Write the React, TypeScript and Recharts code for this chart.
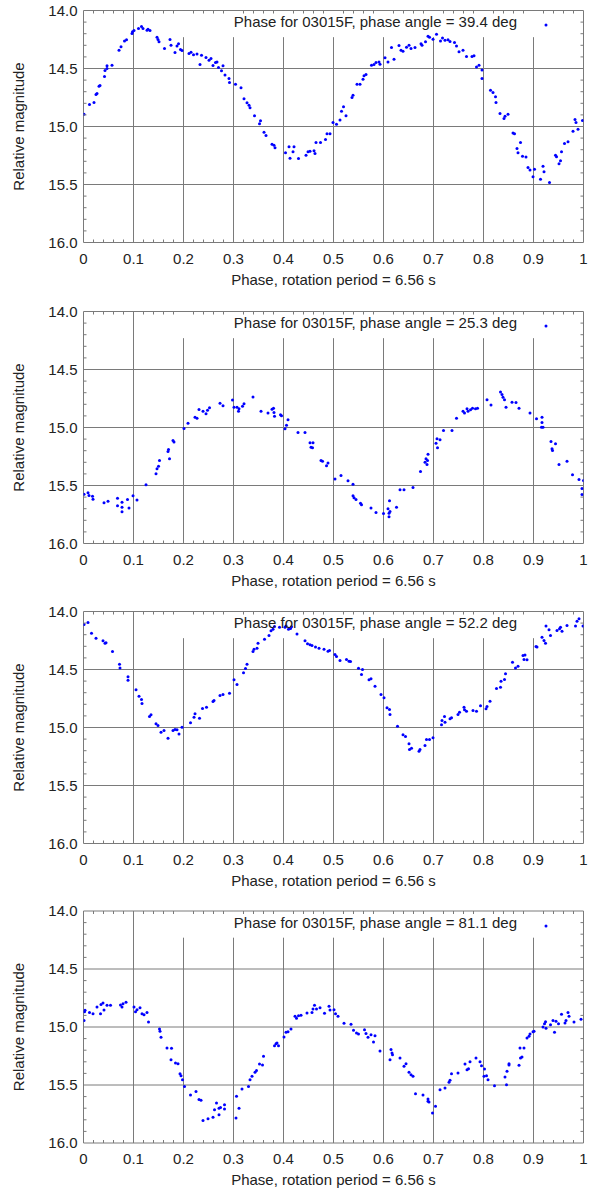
import React from 'react';
import {
  ScatterChart,
  Scatter,
  XAxis,
  YAxis,
  ReferenceLine,
  ReferenceArea,
  Legend,
} from 'recharts';

// ---------- axis ticks & labels ----------
const xMajorTicks = [0, 0.1, 0.2, 0.3, 0.4, 0.5, 0.6, 0.7, 0.8, 0.9, 1];
const xMajorLabels = ['0', '0.1', '0.2', '0.3', '0.4', '0.5', '0.6', '0.7', '0.8', '0.9', '1'];
const xMinorTicks = [
  0.02, 0.04, 0.06, 0.08, 0.12, 0.14, 0.16, 0.18, 0.22, 0.24, 0.26, 0.28,
  0.32, 0.34, 0.36, 0.38, 0.42, 0.44, 0.46, 0.48, 0.52, 0.54, 0.56, 0.58,
  0.62, 0.64, 0.66, 0.68, 0.72, 0.74, 0.76, 0.78, 0.82, 0.84, 0.86, 0.88,
  0.92, 0.94, 0.96, 0.98,
];
const yMajorTicks = [14, 14.5, 15, 15.5, 16];
const yMajorLabels = ['14.0', '14.5', '15.0', '15.5', '16.0'];
const yMinorTicks = [
  14.1, 14.2, 14.3, 14.4, 14.6, 14.7, 14.8, 14.9, 15.1, 15.2, 15.3, 15.4,
  15.6, 15.7, 15.8, 15.9,
];
const vGridFull = [0.1];
const vGridUnderKey = [0.2, 0.3, 0.4, 0.5, 0.6, 0.7, 0.8, 0.9];
const hGrid = [14.5, 15, 15.5];

const xTitle = 'Phase, rotation period = 6.56 s';
const yTitle = 'Relative magnitude';
const keyTitles = [
  'Phase for 03015F, phase angle = 39.4 deg',
  'Phase for 03015F, phase angle = 25.3 deg',
  'Phase for 03015F, phase angle = 52.2 deg',
  'Phase for 03015F, phase angle = 81.1 deg',
];

// ---------- data: [phase, relative magnitude] ----------
const angle39: [number, number][] = [
  [0.001, 14.894], [0.012, 14.81], [0.021, 14.793], [0.025, 14.724], [0.027, 14.716], [0.031, 14.652],
  [0.033, 14.647], [0.042, 14.569], [0.043, 14.517], [0.047, 14.5], [0.047, 14.477], [0.057, 14.471],
  [0.071, 14.342], [0.075, 14.313], [0.082, 14.264], [0.086, 14.253], [0.097, 14.198], [0.098, 14.184],
  [0.101, 14.172], [0.11, 14.155], [0.116, 14.138], [0.119, 14.155], [0.127, 14.17], [0.129, 14.161],
  [0.133, 14.172], [0.147, 14.23], [0.149, 14.25], [0.151, 14.27], [0.162, 14.328], [0.173, 14.25],
  [0.175, 14.299], [0.183, 14.362], [0.187, 14.305], [0.19, 14.287], [0.194, 14.336], [0.197, 14.345],
  [0.211, 14.371], [0.215, 14.359], [0.22, 14.382], [0.227, 14.374], [0.233, 14.466], [0.236, 14.385],
  [0.245, 14.405], [0.251, 14.428], [0.255, 14.414], [0.259, 14.474], [0.264, 14.448], [0.267, 14.443],
  [0.27, 14.491], [0.276, 14.52], [0.279, 14.477], [0.283, 14.555], [0.291, 14.586], [0.292, 14.621],
  [0.304, 14.635], [0.315, 14.667], [0.321, 14.761], [0.327, 14.796], [0.331, 14.816], [0.333, 14.839],
  [0.342, 14.908], [0.354, 14.951], [0.352, 14.977], [0.361, 15.049], [0.365, 15.078], [0.377, 15.152],
  [0.383, 15.184], [0.381, 15.161],
  [0.404, 15.227], [0.411, 15.175], [0.421, 15.175], [0.413, 15.273], [0.419, 15.218], [0.43, 15.276],
  [0.445, 15.247], [0.449, 15.218], [0.453, 15.213], [0.461, 15.21], [0.463, 15.233], [0.465, 15.138],
  [0.474, 15.138], [0.484, 15.112], [0.487, 15.063], [0.493, 15.063], [0.499, 14.966], [0.506, 14.98],
  [0.513, 14.943], [0.516, 14.868], [0.52, 14.83], [0.525, 14.908], [0.537, 14.75], [0.539, 14.73],
  [0.547, 14.635], [0.553, 14.635], [0.559, 14.592], [0.561, 14.563], [0.565, 14.552], [0.576, 14.471],
  [0.581, 14.466], [0.585, 14.448], [0.591, 14.443], [0.593, 14.463], [0.603, 14.408], [0.609, 14.443],
  [0.616, 14.319], [0.621, 14.42], [0.631, 14.302], [0.635, 14.342], [0.639, 14.351], [0.646, 14.316],
  [0.651, 14.299], [0.655, 14.328], [0.663, 14.319], [0.675, 14.287], [0.677, 14.299], [0.684, 14.27],
  [0.689, 14.221], [0.692, 14.23], [0.699, 14.247], [0.706, 14.204], [0.714, 14.264], [0.718, 14.236],
  [0.723, 14.256], [0.729, 14.253], [0.733, 14.267], [0.742, 14.276], [0.746, 14.305], [0.751, 14.356],
  [0.759, 14.342], [0.766, 14.397], [0.777, 14.397], [0.781, 14.391],
  [0.786, 14.486], [0.791, 14.471], [0.797, 14.514], [0.797, 14.586], [0.814, 14.687], [0.819, 14.707],
  [0.824, 14.744], [0.825, 14.793], [0.833, 14.888], [0.841, 14.931], [0.843, 14.911], [0.849, 14.894],
  [0.859, 15.055], [0.862, 15.063], [0.867, 15.19], [0.869, 15.227], [0.874, 15.138], [0.878, 15.256],
  [0.885, 15.264], [0.889, 15.353], [0.893, 15.376], [0.902, 15.368], [0.899, 15.434], [0.914, 15.454],
  [0.919, 15.342], [0.921, 15.391], [0.932, 15.483], [0.944, 15.247], [0.946, 15.261], [0.951, 15.322],
  [0.954, 15.296], [0.956, 15.218], [0.962, 15.147], [0.969, 15.132], [0.979, 15.04], [0.983, 14.94],
  [0.985, 14.966], [0.989, 15.023], [0.998, 14.948],
];

const angle25: [number, number][] = [
  [0.001, 15.575], [0.009, 15.563], [0.011, 15.586], [0.018, 15.592], [0.019, 15.618],
  [0.041, 15.649], [0.049, 15.635],
  [0.068, 15.609], [0.068, 15.675], [0.077, 15.644], [0.077, 15.727], [0.077, 15.687], [0.088, 15.621],
  [0.091, 15.695], [0.099, 15.589], [0.107, 15.626],
  [0.125, 15.494],
  [0.145, 15.399], [0.147, 15.356], [0.15, 15.333], [0.152, 15.284], [0.172, 15.27], [0.169, 15.207],
  [0.17, 15.19], [0.179, 15.112], [0.181, 15.126],
  [0.201, 15.009], [0.209, 14.963],
  [0.223, 14.911], [0.227, 14.92], [0.231, 14.845], [0.239, 14.859], [0.245, 14.882], [0.248, 14.851],
  [0.252, 14.83], [0.273, 14.79], [0.279, 14.813],
  [0.298, 14.764], [0.301, 14.825], [0.307, 14.825], [0.31, 14.859], [0.311, 14.839], [0.318, 14.816],
  [0.321, 14.796], [0.339, 14.736],
  [0.355, 14.859], [0.369, 14.874], [0.377, 14.842], [0.38, 14.833], [0.381, 14.871], [0.382, 14.902],
  [0.394, 14.891], [0.396, 14.899], [0.403, 15.011], [0.406, 14.98], [0.409, 14.934],
  [0.429, 15.043], [0.443, 15.043],
  [0.453, 15.132], [0.455, 15.17], [0.459, 15.132], [0.458, 15.175],
  [0.475, 15.284], [0.478, 15.29], [0.486, 15.33], [0.489, 15.307],
  [0.503, 15.443], [0.515, 15.414], [0.529, 15.46], [0.539, 15.489],
  [0.539, 15.589], [0.541, 15.606], [0.545, 15.621], [0.554, 15.652], [0.556, 15.667], [0.575, 15.695],
  [0.585, 15.733],
  [0.6, 15.741], [0.609, 15.701], [0.612, 15.632], [0.611, 15.739], [0.613, 15.724], [0.611, 15.77],
  [0.626, 15.687], [0.633, 15.537], [0.641, 15.537], [0.659, 15.517],
  [0.674, 15.379], [0.683, 15.299], [0.685, 15.27], [0.688, 15.284], [0.687, 15.319], [0.689, 15.23],
  [0.705, 15.135], [0.707, 15.098], [0.708, 15.175], [0.713, 15.106], [0.72, 15.026], [0.737, 15.026],
  [0.746, 14.92],
  [0.759, 14.859], [0.762, 14.876], [0.767, 14.839], [0.769, 14.859], [0.774, 14.848], [0.778, 14.833],
  [0.784, 14.839], [0.788, 14.833], [0.807, 14.761], [0.815, 14.807],
  [0.834, 14.695], [0.837, 14.716], [0.839, 14.739], [0.842, 14.761], [0.845, 14.825], [0.857, 14.782],
  [0.865, 14.784], [0.871, 14.833], [0.893, 14.876], [0.906, 14.925], [0.917, 14.911], [0.917, 14.957],
  [0.916, 14.997], [0.919, 14.997],
  [0.935, 15.121], [0.944, 15.141], [0.937, 15.184], [0.938, 15.198], [0.951, 15.319], [0.967, 15.29],
  [0.978, 15.408], [0.991, 15.448], [1.0, 15.457], [0.997, 15.526], [0.997, 15.578],
];

const angle52: [number, number][] = [
  [0.001, 14.112], [0.009, 14.095], [0.016, 14.187], [0.025, 14.23], [0.039, 14.253], [0.043, 14.273],
  [0.045, 14.27], [0.058, 14.345], [0.072, 14.454], [0.073, 14.486], [0.089, 14.563], [0.089, 14.592],
  [0.105, 14.675], [0.111, 14.73], [0.116, 14.759], [0.117, 14.793], [0.132, 14.905], [0.135, 14.891],
  [0.145, 14.968], [0.149, 14.983], [0.155, 15.04], [0.161, 15.026], [0.169, 15.092], [0.179, 15.026],
  [0.183, 15.017], [0.187, 15.02], [0.191, 15.057], [0.197, 14.997], [0.214, 14.96], [0.221, 14.911],
  [0.223, 14.882], [0.232, 14.92], [0.238, 14.836], [0.246, 14.825], [0.259, 14.776], [0.261, 14.767],
  [0.273, 14.724], [0.279, 14.716], [0.292, 14.704], [0.301, 14.589], [0.307, 14.629], [0.32, 14.529],
  [0.324, 14.491], [0.327, 14.454], [0.339, 14.345], [0.341, 14.325], [0.347, 14.316], [0.349, 14.273],
  [0.362, 14.239], [0.371, 14.207], [0.375, 14.167], [0.379, 14.152], [0.382, 14.129], [0.392, 14.135],
  [0.403, 14.135], [0.405, 14.124], [0.41, 14.152], [0.414, 14.147], [0.416, 14.132], [0.427, 14.193],
  [0.443, 14.253], [0.448, 14.279], [0.453, 14.287], [0.457, 14.293], [0.464, 14.307], [0.471, 14.316],
  [0.481, 14.325], [0.489, 14.342], [0.492, 14.336], [0.503, 14.371], [0.506, 14.388], [0.513, 14.422],
  [0.526, 14.414], [0.531, 14.428], [0.534, 14.431], [0.55, 14.489], [0.558, 14.5], [0.556, 14.543],
  [0.571, 14.589], [0.575, 14.58], [0.583, 14.644], [0.595, 14.716], [0.601, 14.744], [0.607, 14.83],
  [0.612, 14.845], [0.613, 14.888], [0.628, 14.989], [0.639, 15.063], [0.644, 15.078], [0.651, 15.141],
  [0.652, 15.19], [0.656, 15.178], [0.671, 15.204], [0.673, 15.19], [0.683, 15.155], [0.686, 15.103],
  [0.692, 15.103], [0.699, 15.089], [0.716, 14.977], [0.717, 14.94], [0.722, 14.905], [0.723, 14.954],
  [0.733, 14.925], [0.736, 14.917], [0.749, 14.888], [0.752, 14.868], [0.761, 14.825], [0.762, 14.848],
  [0.766, 14.859], [0.779, 14.853], [0.786, 14.859], [0.794, 14.813], [0.805, 14.839], [0.807, 14.819],
  [0.813, 14.773], [0.826, 14.664], [0.834, 14.652], [0.835, 14.601], [0.842, 14.586], [0.844, 14.537],
  [0.858, 14.437], [0.864, 14.486], [0.869, 14.471], [0.879, 14.379], [0.881, 14.414], [0.887, 14.417],
  [0.883, 14.374], [0.905, 14.302], [0.907, 14.307], [0.917, 14.221], [0.921, 14.25], [0.924, 14.273],
  [0.931, 14.158], [0.934, 14.207], [0.947, 14.164], [0.952, 14.149], [0.957, 14.17], [0.954, 14.135],
  [0.967, 14.121], [0.984, 14.126], [0.987, 14.083], [0.991, 14.063], [0.999, 14.126],
];

const angle81: [number, number][] = [
  [0.001, 14.945], [0.002, 14.868], [0.003, 14.856], [0.012, 14.874], [0.019, 14.885],
  [0.027, 14.828], [0.034, 14.885], [0.035, 14.805], [0.039, 14.793], [0.041, 14.853], [0.047, 14.813],
  [0.054, 14.813], [0.074, 14.81], [0.077, 14.828], [0.079, 14.799], [0.085, 14.787],
  [0.101, 14.828], [0.104, 14.868], [0.107, 14.851], [0.113, 14.833], [0.117, 14.885], [0.121, 14.894],
  [0.127, 14.874], [0.13, 14.957], [0.152, 15.017], [0.153, 15.037], [0.155, 15.089],
  [0.167, 15.181], [0.176, 15.184], [0.175, 15.282], [0.184, 15.31], [0.189, 15.316],
  [0.193, 15.402], [0.195, 15.42], [0.198, 15.454], [0.202, 15.514],
  [0.214, 15.586], [0.225, 15.557], [0.231, 15.626], [0.235, 15.632],
  [0.239, 15.807], [0.249, 15.79], [0.259, 15.779], [0.266, 15.655], [0.262, 15.713], [0.271, 15.756],
  [0.274, 15.693], [0.282, 15.707], [0.282, 15.67], [0.271, 15.701],
  [0.305, 15.784], [0.306, 15.598], [0.311, 15.701], [0.317, 15.534], [0.33, 15.514], [0.333, 15.454],
  [0.337, 15.425], [0.343, 15.391], [0.346, 15.374], [0.352, 15.319], [0.36, 15.253], [0.358, 15.328],
  [0.382, 15.161], [0.385, 15.144], [0.387, 15.138], [0.39, 15.161], [0.401, 15.086], [0.405, 15.046],
  [0.409, 15.04], [0.415, 15.017],
  [0.423, 14.908], [0.426, 14.925], [0.43, 14.902], [0.435, 14.899], [0.447, 14.879], [0.457, 14.874],
  [0.459, 14.845], [0.462, 14.813], [0.466, 14.845], [0.473, 14.833], [0.482, 14.882], [0.491, 14.822],
  [0.493, 14.853], [0.501, 14.851], [0.504, 14.885], [0.509, 14.908],
  [0.521, 14.968], [0.535, 14.977], [0.54, 15.029], [0.546, 15.052], [0.55, 15.06], [0.562, 15.023],
  [0.565, 15.057], [0.569, 15.089], [0.575, 15.066], [0.583, 15.075], [0.58, 15.129], [0.593, 15.207],
  [0.613, 15.282], [0.615, 15.195], [0.617, 15.224], [0.618, 15.239], [0.633, 15.267], [0.641, 15.339],
  [0.645, 15.316], [0.651, 15.391], [0.655, 15.411], [0.659, 15.425],
  [0.664, 15.575], [0.679, 15.586], [0.689, 15.621], [0.691, 15.647], [0.689, 15.641], [0.698, 15.741],
  [0.704, 15.684],
  [0.713, 15.54], [0.723, 15.526], [0.731, 15.477], [0.733, 15.46], [0.736, 15.402], [0.749, 15.397],
  [0.763, 15.319], [0.767, 15.368], [0.773, 15.299], [0.77, 15.36],
  [0.785, 15.267], [0.793, 15.299], [0.796, 15.333], [0.802, 15.362], [0.801, 15.425], [0.806, 15.42],
  [0.809, 15.454], [0.822, 15.506],
  [0.843, 15.431], [0.846, 15.497], [0.847, 15.382], [0.851, 15.328], [0.851, 15.316], [0.871, 15.33],
  [0.874, 15.267], [0.877, 15.259], [0.881, 15.181], [0.873, 15.181],
  [0.887, 15.095], [0.891, 15.08], [0.893, 15.06], [0.899, 15.04], [0.901, 15.037], [0.919, 14.999],
  [0.922, 14.971], [0.924, 14.954], [0.925, 15.011], [0.934, 14.98], [0.939, 14.945], [0.942, 15.046],
  [0.945, 14.951], [0.95, 14.971], [0.956, 14.891], [0.963, 14.966], [0.965, 14.945], [0.969, 14.874],
  [0.971, 14.908], [0.981, 14.957], [0.995, 14.934],
];

const panelSeries = [angle39, angle25, angle52, angle81];

// ---------- layout / style ----------
const FONT = '"Liberation Sans", Arial, Helvetica, sans-serif';
const TEXT = '#222222';
const GRID = '#7a7a7a';
const POINT = '#0000ff';
const CHART_W = 589;
const CHART_H = 288;
const Y_AXIS_W = 75;
const X_AXIS_H = 46;
const PLOT_W = 500;
const PLOT_H = 232;
const KEY_TOP = 14.23;
const panelTops = [0, 301, 601, 901];
const panelTopMargins = [10.5, 10.5, 10.5, 10];

const near = (a: number, b: number) => Math.abs(a - b) < 1e-9;

const XTick = (props: any) => {
  const { x, y, payload } = props;
  const v = payload.value;
  const idx = xMajorTicks.findIndex((t) => near(t, v));
  if (idx >= 0) {
    return (
      <g>
        <text x={x} y={y + 21} textAnchor="middle" fontSize={15} fontFamily={FONT} fill={TEXT}>
          {xMajorLabels[idx]}
        </text>
      </g>
    );
  }
  return (
    <g>
      <line x1={x} x2={x} y1={y} y2={y - 3} stroke={GRID} strokeWidth={1} />
      <line x1={x} x2={x} y1={y - PLOT_H} y2={y - PLOT_H + 3} stroke={GRID} strokeWidth={1} />
    </g>
  );
};

const YTick = (props: any) => {
  const { x, y, payload } = props;
  const v = payload.value;
  const idx = yMajorTicks.findIndex((t) => near(t, v));
  if (idx >= 0) {
    return (
      <g>
        <text x={x - 6} y={y + 5} textAnchor="end" fontSize={15} fontFamily={FONT} fill={TEXT}>
          {yMajorLabels[idx]}
        </text>
      </g>
    );
  }
  return (
    <g>
      <line x1={x} x2={x + 3} y1={y} y2={y} stroke={GRID} strokeWidth={1} />
      <line x1={x + PLOT_W - 3} x2={x + PLOT_W} y1={y} y2={y} stroke={GRID} strokeWidth={1} />
    </g>
  );
};

const xLabel = (props: any) => {
  const vb = props.viewBox || {};
  return (
    <text x={vb.x + vb.width / 2} y={vb.y + 42} textAnchor="middle" fontSize={15} fontFamily={FONT} fill={TEXT}>
      {xTitle}
    </text>
  );
};

const yLabel = (props: any) => {
  const vb = props.viewBox || {};
  const cx = vb.x + 15;
  const cy = vb.y + vb.height / 2;
  return (
    <text
      x={cx}
      y={cy}
      transform={`rotate(-90, ${cx}, ${cy})`}
      textAnchor="middle"
      fontSize={15}
      fontFamily={FONT}
      fill={TEXT}
    >
      {yTitle}
    </text>
  );
};

const Dot = (props: any) => <circle cx={props.cx} cy={props.cy} r={1.5} fill={POINT} />;

function Panel({ points, title, top }: { points: [number, number][]; title: string; top: number }) {
  const data = points.map(([phase, mag]) => ({ phase, mag }));
  const allX = [...xMajorTicks, ...xMinorTicks].sort((a, b) => a - b);
  const allY = [...yMajorTicks, ...yMinorTicks].sort((a, b) => a - b);
  const left = 8.5;
  const margin = {
    top,
    left,
    right: CHART_W - left - Y_AXIS_W - PLOT_W,
    bottom: CHART_H - top - PLOT_H - X_AXIS_H,
  };
  return (
    <ScatterChart width={CHART_W} height={CHART_H} margin={margin}>
      <XAxis
        type="number"
        dataKey="phase"
        domain={[0, 1]}
        ticks={allX}
        interval={0}
        tickSize={0}
        tickMargin={0}
        axisLine={false}
        tickLine={false}
        height={X_AXIS_H}
        tick={XTick}
        label={xLabel}
        allowDataOverflow
      />
      <YAxis
        type="number"
        dataKey="mag"
        domain={[14, 16]}
        reversed
        ticks={allY}
        interval={0}
        tickSize={0}
        tickMargin={0}
        axisLine={false}
        tickLine={false}
        width={Y_AXIS_W}
        tick={YTick}
        label={yLabel}
        allowDataOverflow
      />
      {hGrid.map((v) => (
        <ReferenceLine key={`h${v}`} y={v} stroke={GRID} strokeWidth={1} />
      ))}
      {vGridFull.map((v) => (
        <ReferenceLine key={`vf${v}`} segment={[{ x: v, y: 16 }, { x: v, y: 14 }]} stroke={GRID} strokeWidth={1} />
      ))}
      {vGridUnderKey.map((v) => (
        <ReferenceLine key={`vk${v}`} segment={[{ x: v, y: 16 }, { x: v, y: KEY_TOP }]} stroke={GRID} strokeWidth={1} />
      ))}
      <ReferenceArea x1={0} x2={1} y1={14} y2={16} fill="none" fillOpacity={0} stroke={GRID} strokeWidth={1} />
      <Scatter data={data} fill={POINT} shape={Dot} isAnimationActive={false} />
      <Legend
        layout="vertical"
        align="center"
        verticalAlign="middle"
        wrapperStyle={{ left: 200, top: 10, width: 370, height: 24 }}
        content={() => (
          <svg width={370} height={24} style={{ display: 'block' }}>
            <text x={317} y={16.5} textAnchor="end" fontSize={15} fontFamily={FONT} fill={TEXT}>
              {title}
            </text>
            <circle cx={346} cy={15} r={1.5} fill={POINT} />
          </svg>
        )}
      />
    </ScatterChart>
  );
}

export default function App() {
  return (
    <div
      style={{
        position: 'absolute',
        left: 0,
        top: 0,
        width: 589,
        height: 1189,
        overflow: 'hidden',
        background: '#ffffff',
      }}
    >
      {panelSeries.map((pts, i) => (
        <div key={i} style={{ position: 'absolute', left: 0, top: panelTops[i] }}>
          <Panel points={pts} title={keyTitles[i]} top={panelTopMargins[i]} />
        </div>
      ))}
    </div>
  );
}
